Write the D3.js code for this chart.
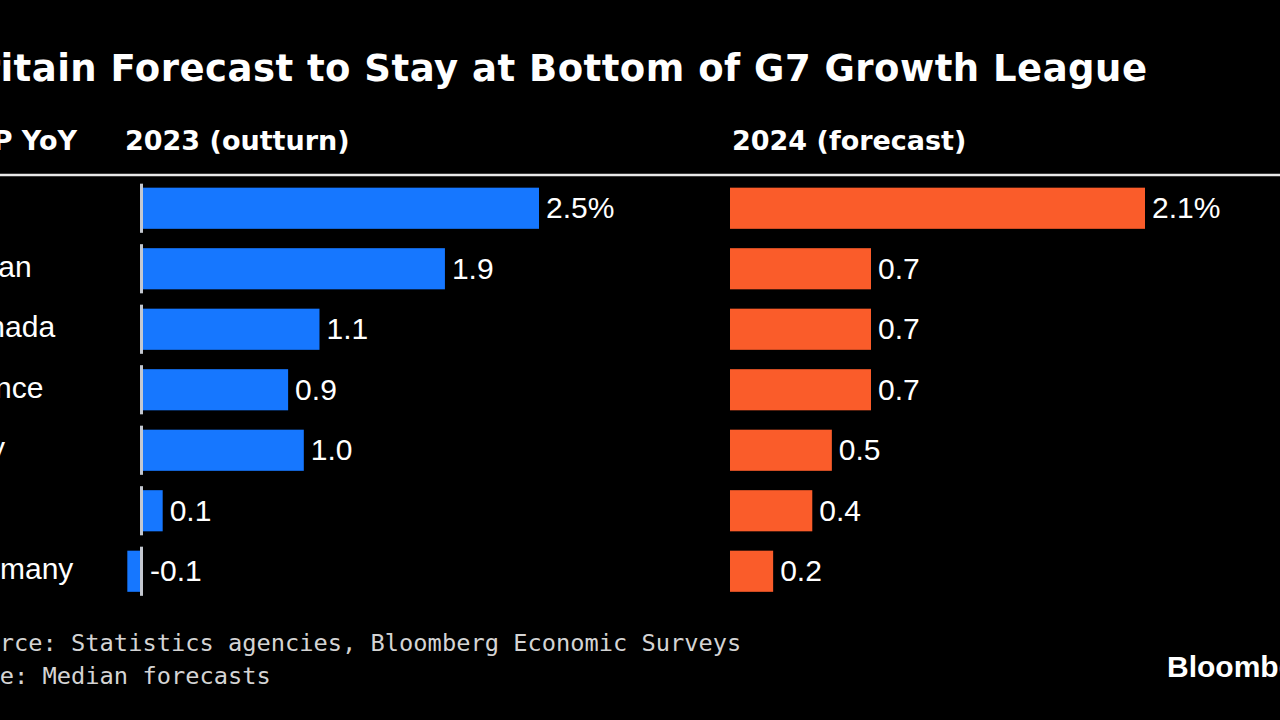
<!DOCTYPE html>
<html>
<head>
<meta charset="utf-8">
<script src="https://cdn.jsdelivr.net/npm/d3@7"></script>
<style>
  html, body { margin: 0; padding: 0; background: #000; overflow: hidden; }
  svg { display: block; }
</style>
</head>
<body>
<svg id="chart" width="1280" height="720"></svg>
<script>
// ---- data ----
const countries = ["US", "Japan", "Canada", "France", "Italy", "UK", "Germany"];
const growth2023 = [2.5, 1.9, 1.1, 0.9, 1.0, 0.1, -0.1];
const forecast2024 = [2.1, 0.7, 0.7, 0.7, 0.5, 0.4, 0.2];
const titleText = "Britain Forecast to Stay at Bottom of G7 Growth League";
const subtitleText = "GDP YoY";
const panelTitles = ["2023 (outturn)", "2024 (forecast)"];
const sourceText = "Source: Statistics agencies, Bloomberg Economic Surveys";
const noteText = "Note: Median forecasts";
const brandText = "Bloomberg";

// ---- setup ----
const W = 1280, H = 720;
const svg = d3.select("#chart");
svg.append("rect").attr("width", W).attr("height", H).attr("fill", "#000");

const BLUE = "#1677ff";
const ORANGE = "#fa5c2a";
const TEXT = "#ffffff";
const LABEL_FONT = "'Liberation Sans', Arial, sans-serif";
const BOLD_FONT = "'DejaVu Sans', Verdana, sans-serif";

// title: cropped at the left like the reference ("itain ..." visible from x≈2 to x≈1147)
const TITLE_SIZE = 37;
const TITLE_LEFT = -47, TITLE_RIGHT = 1147;
svg.append("text")
  .attr("x", TITLE_LEFT).attr("y", 81)
  .attr("textLength", TITLE_RIGHT - TITLE_LEFT)
  .attr("lengthAdjust", "spacing")
  .attr("font-family", BOLD_FONT).attr("font-weight", "bold")
  .attr("font-size", TITLE_SIZE).attr("fill", TEXT)
  .text(titleText);

// subtitle row
svg.append("text")
  .attr("x", 77).attr("y", 150)
  .attr("text-anchor", "end")
  .attr("font-family", BOLD_FONT).attr("font-weight", "bold")
  .attr("font-size", 27).attr("fill", TEXT)
  .text(subtitleText);

// header rule
svg.append("line")
  .attr("x1", 0).attr("x2", W).attr("y1", 175).attr("y2", 175)
  .attr("stroke", "#e8e8e8").attr("stroke-width", 2.5);

// scales
const y = d3.scaleBand()
  .domain(countries)
  .range([178, 178 + 7 * 60.5])
  .paddingInner(0.32).paddingOuter(0.16);

const xBlue = d3.scaleLinear().domain([0, 2.5]).range([147, 539]);
const xOrange = d3.scaleLinear().domain([0, 2.1]).range([734, 1145]);

const fmt = d3.formatLocale({ decimal: ".", thousands: ",", grouping: [3], currency: ["", ""], minus: "-" }).format(".1f");

const PAD = 4; // bar overhang at the zero end

function drawPanel(values, x, color, title, titleX, withZeroLine) {
  const zeroX = x(0) - PAD;
  svg.append("text")
    .attr("x", titleX).attr("y", 150)
    .attr("font-family", BOLD_FONT).attr("font-weight", "bold")
    .attr("font-size", 27).attr("fill", TEXT)
    .text(title);

  const g = svg.append("g");
  const rows = g.selectAll("g.row").data(countries.map((c, i) => ({ c, v: values[i], i })))
    .join("g").attr("class", "row");

  rows.append("rect")
    .attr("x", d => d.v >= 0 ? zeroX : x(d.v) - PAD)
    .attr("y", d => y(d.c))
    .attr("width", d => d.v >= 0 ? x(d.v) - zeroX : (zeroX - 2.5) - (x(d.v) - PAD))
    .attr("height", y.bandwidth())
    .attr("fill", color);

  if (withZeroLine) {
    rows.append("line")
      .attr("x1", zeroX - 1.5).attr("x2", zeroX - 1.5)
      .attr("y1", d => y(d.c) - 4)
      .attr("y2", d => y(d.c) + y.bandwidth() + 4)
      .attr("stroke", "#c4c8d0").attr("stroke-width", 3);
  }

  rows.append("text")
    .attr("x", d => Math.max(x(d.v), zeroX) + 7)
    .attr("y", d => y(d.c) + y.bandwidth() / 2 + 10)
    .attr("font-family", LABEL_FONT).attr("font-size", 30)
    .attr("fill", TEXT)
    .text(d => fmt(d.v) + (d.i === 0 ? "%" : ""));
}

drawPanel(growth2023, xBlue, BLUE, panelTitles[0], 125, true);
drawPanel(forecast2024, xOrange, ORANGE, panelTitles[1], 732, false);

// country labels (cropped at the left edge like the reference)
svg.append("g").selectAll("text").data(countries).join("text")
  .attr("x", -50)
  .attr("y", d => y(d) + y.bandwidth() / 2 + 8)
  .attr("font-family", LABEL_FONT).attr("font-size", 30)
  .attr("fill", TEXT)
  .text(d => d);

// footer
const MONO = "'DejaVu Sans Mono', monospace";
svg.append("text")
  .attr("x", -43).attr("y", 651)
  .attr("font-family", MONO).attr("font-size", 23.7).attr("fill", "#d4d4d4")
  .text(sourceText);
svg.append("text")
  .attr("x", -43).attr("y", 684)
  .attr("font-family", MONO).attr("font-size", 23.7).attr("fill", "#d4d4d4")
  .text(noteText);

svg.append("text")
  .attr("x", 1167).attr("y", 677)
  .attr("font-family", LABEL_FONT).attr("font-weight", "bold")
  .attr("font-size", 30).attr("fill", TEXT)
  .text(brandText);
</script>
</body>
</html>
